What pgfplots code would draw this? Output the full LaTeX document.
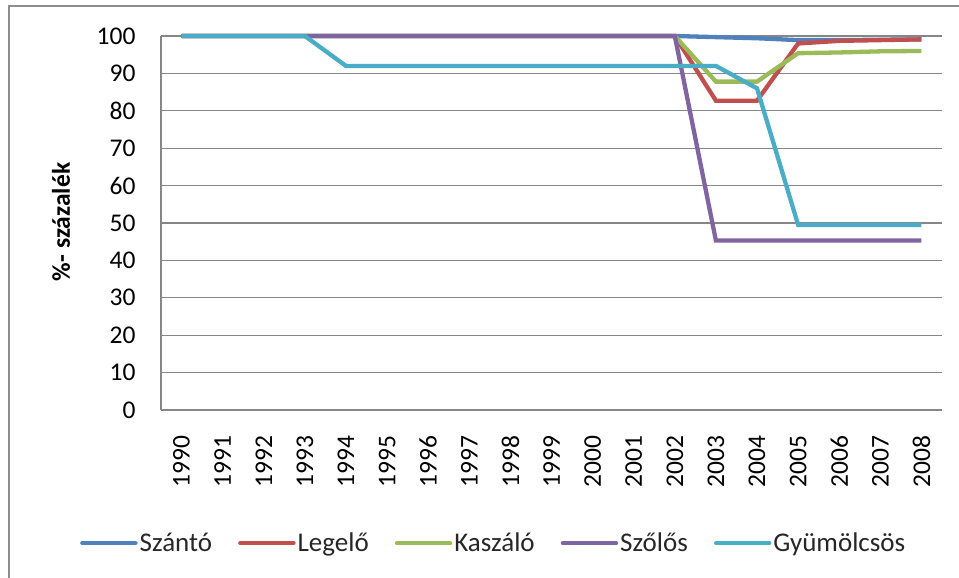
\documentclass[border=0pt]{standalone}
\usepackage{pgfplots}
\pgfplotsset{compat=1.18}
\usepackage{fontspec}
\setmainfont{Carlito}
\definecolor{cBlue}{HTML}{4F81BD}
\definecolor{cRed}{HTML}{C0504D}
\definecolor{cGreen}{HTML}{9BBB59}
\definecolor{cPurple}{HTML}{8064A2}
\definecolor{cCyan}{HTML}{4BACC6}
\definecolor{cGrid}{HTML}{868686}
\definecolor{cFrame}{HTML}{8C8C8C}
\begin{document}
\begin{tikzpicture}[x=1pt,y=1pt]
\useasboundingbox (0,0) rectangle (959,-578);
\draw[cFrame, line width=2.5pt] (9,-590) -- (9,-6) -- (970,-6);
\begin{axis}[
  at={(161pt,-410pt)}, anchor=south west,
  scale only axis, width=781pt, height=374pt,
  xmin=-0.5, xmax=18.5, ymin=0, ymax=100,
  xtick={0,...,18},
  xticklabels={1990,1991,1992,1993,1994,1995,1996,1997,1998,1999,2000,2001,2002,2003,2004,2005,2006,2007,2008},
  ytick={0,10,...,100},
  axis x line*=bottom, axis y line*=left,
  axis line style={cGrid, line width=1.2pt, -},
  ymajorgrids, grid style={cGrid, line width=1.1pt},
  major tick length=0pt,
  /pgf/number format/assume math mode=true,
  tick label style={font=\fontsize{25.5}{30}\selectfont, text=black},
  x tick label style={rotate=90, anchor=east, xshift=-22pt},
  y tick label style={xshift=-22pt},
  ylabel={\bfseries \%- százalék},
  every axis y label/.style={at={(axis description cs:-0.128,0.503)}, rotate=90, anchor=center, font=\fontsize{25.5}{30}\selectfont},
  legend columns=5,
  legend style={draw=none, fill=none, at={(axis description cs:0.426,-0.356)}, anchor=center,
    font=\fontsize{27}{32}\selectfont, text=black!85, nodes={inner sep=2pt},
    /tikz/every even column/.append style={column sep=24pt}},
  legend image code/.code={\draw[#1, line width=4.5pt, line cap=round] (0pt,0pt) -- (53pt,0pt);},
  clip=false,
]
\addplot[cBlue, line width=4.3pt] coordinates {(0,100)(1,100)(2,100)(3,100)(4,100)(5,100)(6,100)(7,100)(8,100)(9,100)(10,100)(11,100)(12,100)(13,99.7)(14,99.4)(15,98.9)(16,98.9)(17,99.0)(18,99.1)};
\addlegendentry{Szántó}
\addplot[cRed, line width=4.3pt] coordinates {(0,100)(1,100)(2,100)(3,100)(4,100)(5,100)(6,100)(7,100)(8,100)(9,100)(10,100)(11,100)(12,100)(13,82.7)(14,82.7)(15,98.0)(16,98.7)(17,98.9)(18,99.1)};
\addlegendentry{Legelő}
\addplot[cGreen, line width=4.3pt] coordinates {(0,100)(1,100)(2,100)(3,100)(4,100)(5,100)(6,100)(7,100)(8,100)(9,100)(10,100)(11,100)(12,100)(13,87.8)(14,87.8)(15,95.4)(16,95.6)(17,95.9)(18,96.0)};
\addlegendentry{Kaszáló}
\addplot[cPurple, line width=4.3pt] coordinates {(0,100)(1,100)(2,100)(3,100)(4,100)(5,100)(6,100)(7,100)(8,100)(9,100)(10,100)(11,100)(12,100)(13,45.3)(14,45.3)(15,45.3)(16,45.3)(17,45.3)(18,45.3)};
\addlegendentry{Szőlős}
\addplot[cCyan, line width=4.3pt] coordinates {(0,100)(1,100)(2,100)(3,100)(4,92.0)(5,92.0)(6,92.0)(7,92.0)(8,92.0)(9,92.0)(10,92.0)(11,92.0)(12,92.0)(13,92.0)(14,86.0)(15,49.5)(16,49.5)(17,49.5)(18,49.5)};
\addlegendentry{Gyümölcsös}
\end{axis}
\end{tikzpicture}
\end{document}
